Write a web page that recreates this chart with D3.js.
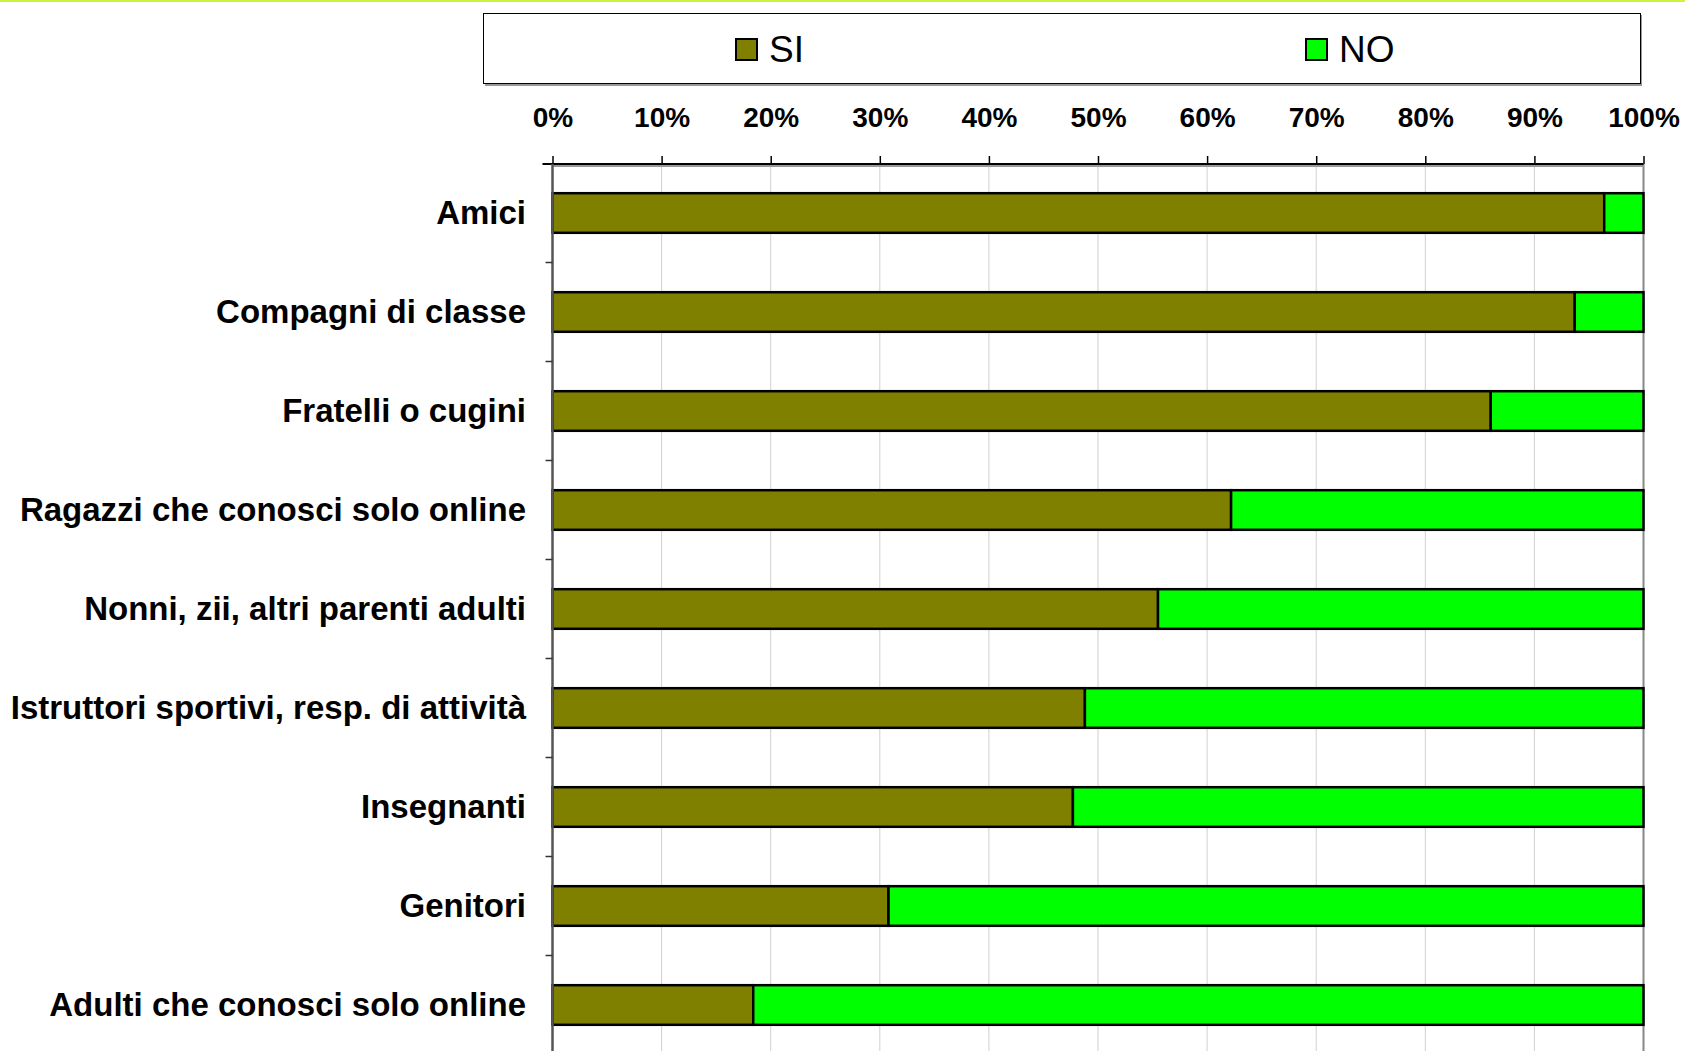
<!DOCTYPE html>
<html>
<head>
<meta charset="utf-8">
<script src="https://cdn.jsdelivr.net/npm/d3@7"></script>
<style>
html,body{margin:0;padding:0;background:#fff;}
svg{display:block;}
</style>
</head>
<body>
<script>
const categories = ["Amici","Compagni di classe","Fratelli o cugini","Ragazzi che conosci solo online","Nonni, zii, altri parenti adulti","Istruttori sportivi, resp. di attività","Insegnanti","Genitori","Adulti che conosci solo online"];
const siValues = [96.4, 93.7, 86.0, 62.2, 55.5, 48.8, 47.7, 30.8, 18.4];
const noValues = siValues.map(v => 100 - v);
const seriesNames = ["SI","NO"];
const seriesColors = ["#808000","#00ff00"];
const tickValues = [0,10,20,30,40,50,60,70,80,90,100];

const W = 1685, H = 1051;
const svg = d3.select("body").append("svg").attr("width", W).attr("height", H);
const FONT = "'Liberation Sans', Arial, sans-serif";

// top yellow-green line
svg.append("rect").attr("x",0).attr("y",0).attr("width",W).attr("height",2).attr("fill","#ccf53a");

const x = d3.scaleLinear().domain([0,100]).range([552.5, 1643.5]);
const y = d3.scaleBand().domain(categories).range([163.5, 163.5 + 99*9]).paddingInner(0.6).paddingOuter(0.3);

// gridlines
svg.append("g").selectAll("line").data(tickValues).join("line")
  .attr("x1", d => x(d)).attr("x2", d => x(d))
  .attr("y1", 164).attr("y2", H)
  .attr("stroke", d => d === 100 ? "#888" : "#d0d0d0")
  .attr("stroke-width", d => d === 100 ? 2 : 1);

// stacked bars
const rows = categories.map((c,i) => ({cat:c, vals:[siValues[i], noValues[i]]}));
const g = svg.append("g");
rows.forEach(r => {
  let acc = 0;
  r.vals.forEach((v,k) => {
    g.append("rect")
      .attr("x", x(acc)).attr("y", y(r.cat))
      .attr("width", x(acc+v) - x(acc)).attr("height", y.bandwidth())
      .attr("fill", seriesColors[k])
      .attr("stroke", "#000").attr("stroke-width", 2.5);
    acc += v;
  });
});

// top axis
const xAxis = d3.axisTop(x).tickValues(tickValues).tickFormat(d => d + "%").tickSize(8).tickPadding(29);
const ax = svg.append("g").attr("transform","translate(0,164)").call(xAxis);
ax.select(".domain").attr("stroke","#000").attr("stroke-width",2).attr("d", `M${x(0)-10},0H${x(100)}`);
ax.selectAll(".tick line").attr("stroke","#000").attr("stroke-width",1.5);
ax.selectAll(".tick text").attr("font-family",FONT)
  .attr("font-weight","bold").attr("font-size",28).attr("fill","#000");
svg.append("line").attr("x1", x(0)).attr("x2", x(100)).attr("y1",166).attr("y2",166).attr("stroke","#999").attr("stroke-width",2);

// left axis line + ticks at band boundaries
svg.append("line").attr("x1", x(0)).attr("x2", x(0)).attr("y1",164).attr("y2",H)
  .attr("stroke","#555").attr("stroke-width",2.5);
const bounds = d3.range(0, categories.length + 1).map(i => 163.5 + i*y.step());
svg.append("g").selectAll("line").data(bounds.slice(1)).join("line")
  .attr("x1", x(0)-7).attr("x2", x(0)).attr("y1", d => d).attr("y2", d => d)
  .attr("stroke","#333").attr("stroke-width",1.5);

// category labels
svg.append("g").selectAll("text").data(categories).join("text")
  .attr("x", 526).attr("y", d => y(d) + y.bandwidth()/2)
  .attr("dy","0.33em").attr("text-anchor","end")
  .attr("font-family",FONT)
  .attr("font-weight","bold").attr("font-size",33).attr("fill","#000")
  .text(d => d);

// legend
svg.append("rect").attr("x",485).attr("y",15).attr("width",1157).attr("height",71).attr("fill","#999");
svg.append("rect").attr("x",483.5).attr("y",13.5).attr("width",1157).attr("height",70)
  .attr("fill","#fff").attr("stroke","#000").attr("stroke-width",1);
const legX = [735, 1305];
const lg = svg.append("g").selectAll("g").data(seriesNames).join("g")
  .attr("transform",(d,i) => `translate(${legX[i]},38)`);
lg.append("rect").attr("x",1).attr("y",1).attr("width",21).attr("height",21)
  .attr("fill",(d,i) => seriesColors[i]).attr("stroke","#000").attr("stroke-width",2);
lg.append("text").attr("x",34).attr("y",11).attr("dy","0.36em")
  .attr("font-family",FONT).attr("font-size",37).attr("fill","#000")
  .text(d => d);
</script>
</body>
</html>
